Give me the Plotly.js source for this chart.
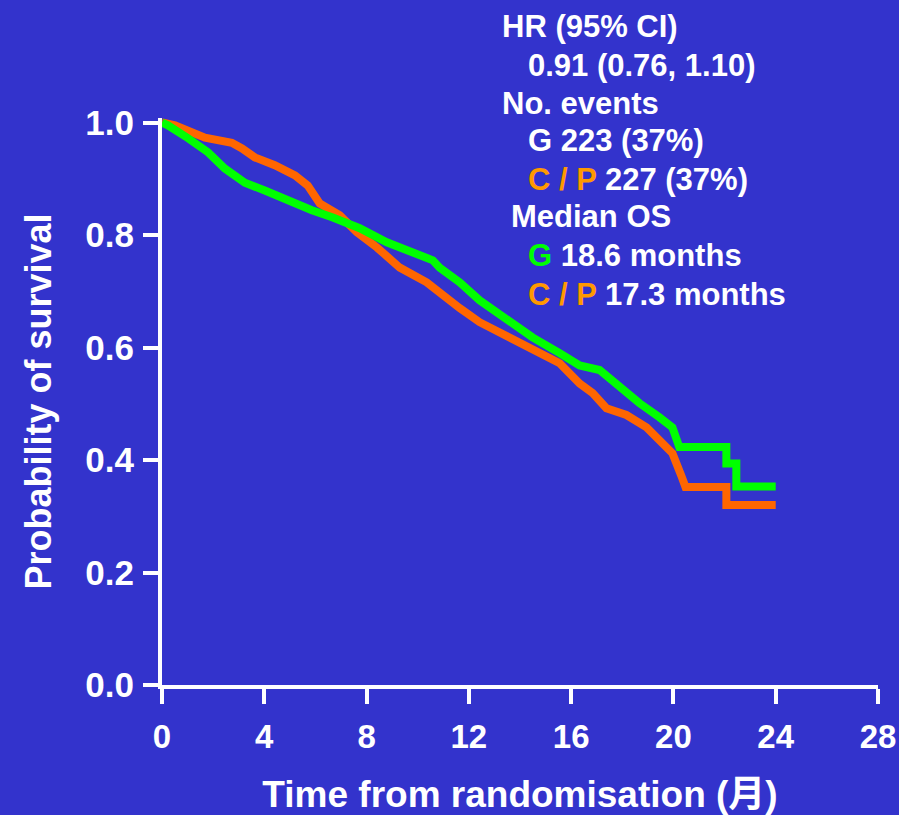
<!DOCTYPE html>
<html>
<head>
<meta charset="utf-8">
<script src="https://cdn.plot.ly/plotly-3.0.1.min.js"></script>
<style>html,body{margin:0;padding:0;background:#3333CC;}#chart{width:899px;height:815px;}</style>
</head>
<body>
<div id="chart"></div>
<script>
// Kaplan-Meier curves (months, survival probability)
const gTime = [0, 0.23, 1.02, 1.80, 2.46, 3.24, 4.02, 4.92, 5.86, 6.68, 7.73, 8.79, 9.80, 10.59, 10.86, 11.37, 11.64, 12.42, 13.48, 14.49, 15.55, 16.33, 17.11, 17.89, 18.67, 19.45, 19.96, 20.23, 22.07, 22.07, 22.46, 22.46, 24.0];
const gSurv = [1.0, 0.995, 0.972, 0.947, 0.918, 0.893, 0.879, 0.861, 0.844, 0.831, 0.812, 0.787, 0.769, 0.755, 0.742, 0.725, 0.716, 0.684, 0.650, 0.618, 0.590, 0.568, 0.560, 0.529, 0.501, 0.476, 0.458, 0.423, 0.423, 0.394, 0.394, 0.353, 0.353];
const cpTime = [0, 0.51, 1.68, 2.73, 3.13, 3.63, 4.41, 5.2, 5.7, 5.98, 6.17, 6.95, 7.62, 8.4, 9.3, 10.35, 10.86, 11.64, 12.42, 13.48, 14.49, 15.55, 16.33, 16.84, 17.38, 18.16, 18.95, 19.45, 19.96, 20.3, 20.47, 22.07, 22.07, 24.0];
const cpSurv = [1.0, 0.995, 0.973, 0.964, 0.954, 0.938, 0.924, 0.906, 0.888, 0.867, 0.856, 0.835, 0.805, 0.778, 0.742, 0.716, 0.696, 0.670, 0.645, 0.620, 0.595, 0.572, 0.536, 0.519, 0.492, 0.480, 0.458, 0.435, 0.412, 0.373, 0.352, 0.352, 0.320, 0.320];

const xTicks = [0, 4, 8, 12, 16, 20, 24, 28];
const yTicks = [0, 0.2, 0.4, 0.6, 0.8, 1.0];

const statLines = [
  {x: 0.4720, y: 1.1612, text: 'HR (95% CI)'},
  {x: 0.5085, y: 1.0925, text: '0.91 (0.76, 1.10)'},
  {x: 0.4720, y: 1.0256, text: 'No. events'},
  {x: 0.5085, y: 0.9604, text: 'G 223 (37%)'},
  {x: 0.5085, y: 0.8916, text: '<span style="color:#FF9900">C / P</span> 227 (37%)'},
  {x: 0.4845, y: 0.8264, text: 'Median OS'},
  {x: 0.5085, y: 0.7577, text: '<span style="color:#00FF00">G</span> 18.6 months'},
  {x: 0.5085, y: 0.6890, text: '<span style="color:#FF9900">C / P</span> 17.3 months'}
];

const FONT = 'Liberation Sans, Arial, Noto Sans CJK JP, sans-serif';

const traces = [
  {x: cpTime, y: cpSurv, type: 'scatter', mode: 'lines', name: 'C / P',
   line: {color: '#FF6600', width: 8, shape: 'linear'}},
  {x: gTime, y: gSurv, type: 'scatter', mode: 'lines', name: 'G',
   line: {color: '#00FF00', width: 8, shape: 'linear'}}
];

const layout = {
  width: 899, height: 815,
  paper_bgcolor: '#3333CC', plot_bgcolor: '#3333CC',
  margin: {l: 162, r: 21, t: 117.5, b: 130, pad: 0},
  showlegend: false,
  font: {family: FONT, color: '#FFFFFF', size: 30, weight: 'bold'},
  xaxis: {
    range: [0, 28], tickvals: xTicks, ticktext: xTicks.map(String),
    showgrid: false, zeroline: false,
    showline: true, linecolor: '#FFFFFF', linewidth: 4,
    ticks: 'outside', ticklen: 15, tickwidth: 4, tickcolor: '#FFFFFF',
    tickfont: {family: FONT, size: 33, color: '#FFFFFF', weight: 'bold'},
    ticklabelstandoff: 4,
    title: {text: 'Time from randomisation (月)', font: {family: FONT, size: 37, color: '#FFFFFF', weight: 'bold'}, standoff: 32},
    automargin: false
  },
  yaxis: {
    range: [0, 1.008], tickvals: yTicks, ticktext: yTicks.map(v => v.toFixed(1)),
    showgrid: false, zeroline: false,
    showline: true, linecolor: '#FFFFFF', linewidth: 4,
    ticks: 'outside', ticklen: 15, tickwidth: 4, tickcolor: '#FFFFFF',
    tickfont: {family: FONT, size: 35, color: '#FFFFFF', weight: 'bold'},
    ticklabelstandoff: 2,
    title: {text: 'Probability of survival', font: {family: FONT, size: 36, color: '#FFFFFF', weight: 'bold'}, standoff: 24},
    automargin: false
  },
  annotations: statLines.map(s => ({
    xref: 'paper', yref: 'paper', x: s.x, y: s.y, xanchor: 'left', yanchor: 'middle',
    text: s.text, showarrow: false, align: 'left',
    font: {family: FONT, size: 31, color: '#FFFFFF', weight: 'bold'}
  }))
};

Plotly.newPlot('chart', traces, layout, {displayModeBar: false, staticPlot: true});
</script>
</body>
</html>
